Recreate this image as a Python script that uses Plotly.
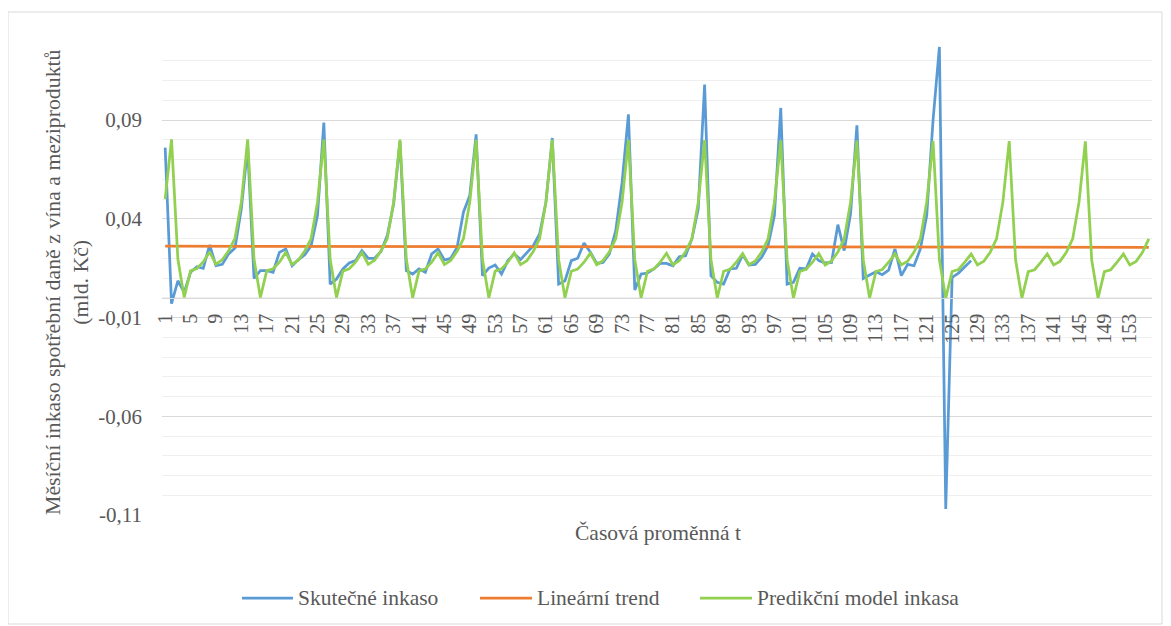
import plotly.graph_objects as go

# ---------------- data ----------------
categories = list(range(1, 157))
x_tick_vals = list(range(1, 157, 4))
x_tick_text = [str(v) for v in x_tick_vals]
y_tick_vals = [-0.11, -0.06, -0.01, 0.04, 0.09]
y_tick_text = ["-0,11", "-0,06", "-0,01", "0,04", "0,09"]

actual_x = list(range(1, 129))
actual = [
    0.0760, -0.0030, 0.0086, 0.0027, 0.0129, 0.0157, 0.0149, 0.0267, 0.0162, 0.0169, 0.0222, 0.0252,
    0.0450, 0.0760, 0.0098, 0.0137, 0.0137, 0.0129, 0.0230, 0.0247, 0.0162, 0.0193, 0.0217, 0.0264,
    0.0416, 0.0887, 0.0069, 0.0095, 0.0146, 0.0176, 0.0188, 0.0239, 0.0200, 0.0200, 0.0234, 0.0315,
    0.0475, 0.0790, 0.0137, 0.0120, 0.0146, 0.0129, 0.0222, 0.0247, 0.0191, 0.0200, 0.0255, 0.0433,
    0.0518, 0.0827, 0.0112, 0.0150, 0.0166, 0.0120, 0.0188, 0.0222, 0.0193, 0.0230, 0.0264, 0.0323,
    0.0484, 0.0809, 0.0069, 0.0086, 0.0188, 0.0200, 0.0277, 0.0230, 0.0174, 0.0179, 0.0222, 0.0340,
    0.0585, 0.0929, 0.0039, 0.0120, 0.0125, 0.0146, 0.0174, 0.0174, 0.0162, 0.0208, 0.0213, 0.0298,
    0.0450, 0.1080, 0.0112, 0.0078, 0.0069, 0.0146, 0.0149, 0.0217, 0.0166, 0.0169, 0.0205, 0.0264,
    0.0416, 0.0961, 0.0069, 0.0078, 0.0149, 0.0146, 0.0222, 0.0188, 0.0176, 0.0179, 0.0370, 0.0239,
    0.0425, 0.0873, 0.0098, 0.0115, 0.0132, 0.0117, 0.0140, 0.0247, 0.0112, 0.0169, 0.0162, 0.0247,
    0.0416, 0.0900, 0.1270, -0.1070, 0.0103, 0.0125, 0.0154, 0.0188,
]

trend_x = [1, 156]
trend = [0.0261, 0.0255]

model = [
    0.0500, 0.0802, 0.0196, 0.0002, 0.0136, 0.0148, 0.0181, 0.0232, 0.0170, 0.0192, 0.0238, 0.0301,
    0.0484, 0.0802, 0.0196, 0.0001, 0.0136, 0.0147, 0.0180, 0.0230, 0.0169, 0.0191, 0.0237, 0.0300,
    0.0484, 0.0801, 0.0195, 0.0001, 0.0135, 0.0147, 0.0180, 0.0229, 0.0169, 0.0190, 0.0236, 0.0300,
    0.0484, 0.0801, 0.0195, 0.0000, 0.0135, 0.0146, 0.0180, 0.0228, 0.0168, 0.0189, 0.0235, 0.0299,
    0.0484, 0.0800, 0.0195, 0.0000, 0.0135, 0.0146, 0.0180, 0.0227, 0.0168, 0.0188, 0.0234, 0.0299,
    0.0484, 0.0800, 0.0194, 0.0000, 0.0134, 0.0145, 0.0180, 0.0226, 0.0167, 0.0188, 0.0233, 0.0299,
    0.0484, 0.0799, 0.0194, 0.0000, 0.0134, 0.0145, 0.0180, 0.0225, 0.0167, 0.0187, 0.0233, 0.0298,
    0.0484, 0.0798, 0.0194, -0.0001, 0.0134, 0.0144, 0.0180, 0.0224, 0.0167, 0.0186, 0.0232, 0.0298,
    0.0484, 0.0797, 0.0193, -0.0001, 0.0133, 0.0144, 0.0180, 0.0224, 0.0166, 0.0186, 0.0232, 0.0298,
    0.0484, 0.0796, 0.0193, -0.0001, 0.0133, 0.0143, 0.0180, 0.0223, 0.0166, 0.0185, 0.0231, 0.0298,
    0.0484, 0.0794, 0.0192, -0.0002, 0.0133, 0.0143, 0.0180, 0.0222, 0.0166, 0.0185, 0.0230, 0.0298,
    0.0484, 0.0793, 0.0192, -0.0002, 0.0132, 0.0142, 0.0180, 0.0222, 0.0166, 0.0184, 0.0230, 0.0298,
    0.0484, 0.0792, 0.0191, -0.0002, 0.0132, 0.0142, 0.0180, 0.0222, 0.0166, 0.0184, 0.0230, 0.0298,
]

series_names = ["Skutečné inkaso", "Lineární trend", "Predikční model inkasa"]
x_title = "Časová proměnná t"
y_title = "Měsíční inkaso spotřební daně z vína a meziproduktů<br>(mld. Kč)"

# ---------------- layout constants (screen pixels) ----------------
OFF = 8                      # page body margin
SCR_W, SCR_H = 1171, 626
W, H = SCR_W - OFF, SCR_H - OFF
L, R, T, B = 162, 1152, 41, 515   # plot area on screen
Y_MIN, Y_MAX = -0.11, 0.13
FONT = "Liberation Serif"
TXT = "#595959"
COLORS = ["#5B9BD5", "#ED7D31", "#92D050"]
LW = 2.75

# legend geometry on screen: (sample x0, sample x1, text x)
LEG_Y = 598
LEG_ITEMS = [(242, 293, 296), (480, 532, 535), (700, 752, 755)]


def px_x(p):
    return (p - L) / (R - L)


def px_y(p):
    return (B - p) / (B - T)


fig = go.Figure()
fig.add_trace(go.Scatter(x=actual_x, y=actual, mode="lines", name=series_names[0],
                         line=dict(color=COLORS[0], width=LW)))
fig.add_trace(go.Scatter(x=trend_x, y=trend, mode="lines", name=series_names[1],
                         line=dict(color=COLORS[1], width=LW)))
fig.add_trace(go.Scatter(x=categories, y=model, mode="lines", name=series_names[2],
                         line=dict(color=COLORS[2], width=LW)))

minor_vals = [round(Y_MIN + 0.01 * k, 4) for k in range(0, 25)]

annotations = [
    dict(text=x_title, x=px_x(658), y=px_y(533), xref="paper", yref="paper",
         xanchor="center", yanchor="middle", showarrow=False,
         font=dict(family=FONT, size=21.5, color=TXT)),
    dict(text=y_title, x=px_x(67), y=px_y(282), xref="paper", yref="paper",
         xanchor="center", yanchor="middle", showarrow=False, textangle=-90,
         font=dict(family=FONT, size=21.8, color=TXT)),
]
shapes = [
    dict(type="rect", xref="paper", yref="paper", x0=px_x(8), x1=px_x(1162),
         y0=px_y(624), y1=px_y(12), line=dict(color="#D9D9D9", width=1),
         fillcolor="rgba(0,0,0,0)", layer="below"),
]
for name, color, (s0, s1, tx) in zip(series_names, COLORS, LEG_ITEMS):
    shapes.append(dict(type="line", xref="paper", yref="paper", x0=px_x(s0), x1=px_x(s1),
                       y0=px_y(LEG_Y), y1=px_y(LEG_Y), line=dict(color=color, width=LW)))
    annotations.append(dict(text=name, x=px_x(tx), y=px_y(LEG_Y), xref="paper", yref="paper",
                            xanchor="left", yanchor="middle", showarrow=False,
                            font=dict(family=FONT, size=21.5, color=TXT)))

fig.update_layout(
    width=W, height=H,
    margin=dict(l=L - OFF, r=SCR_W - R, t=T - OFF, b=SCR_H - B),
    paper_bgcolor="white", plot_bgcolor="white",
    font=dict(family=FONT, color=TXT, size=21),
    showlegend=False,
    xaxis=dict(
        range=[0.5, 156.5], tickmode="array", tickvals=x_tick_vals, ticktext=x_tick_text,
        tickangle=-90, showgrid=False, zeroline=False, showline=True, linecolor="#D9D9D9",
        linewidth=1, anchor="free", position=(0 - Y_MIN) / (Y_MAX - Y_MIN),
        tickfont=dict(family=FONT, size=20, color=TXT), ticks="", ticklabelstandoff=7,
    ),
    yaxis=dict(
        range=[Y_MIN, Y_MAX], tickmode="array", tickvals=y_tick_vals, ticktext=y_tick_text,
        showgrid=True, gridcolor="#D9D9D9", gridwidth=1, zeroline=False, showline=False,
        tickfont=dict(family=FONT, size=21, color=TXT), ticks="", ticklabelstandoff=19,
        minor=dict(tickmode="array", tickvals=minor_vals, showgrid=True,
                   gridcolor="#EFEFEF", gridwidth=1, ticks=""),
    ),
    annotations=annotations,
    shapes=shapes,
)

fig.write_html("out.html")
